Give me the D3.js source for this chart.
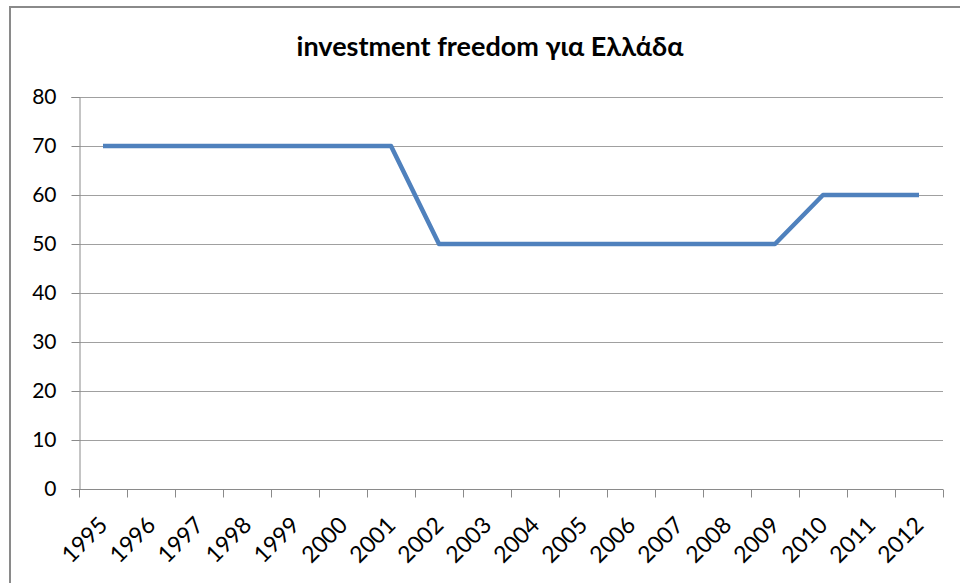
<!DOCTYPE html>
<html>
<head>
<meta charset="utf-8">
<script src="https://cdn.jsdelivr.net/npm/d3@7"></script>
<style>
  body { margin: 0; background: #fff; }
  svg { display: block; font-family: Lato, "Open Sans", sans-serif; }
</style>
</head>
<body>
<svg id="chart"></svg>
<script>
"use strict";

// data
const years = ["1995", "1996", "1997", "1998", "1999", "2000", "2001", "2002", "2003",
    "2004", "2005", "2006", "2007", "2008", "2009", "2010", "2011", "2012"];
const values = [70, 70, 70, 70, 70, 70, 70, 50, 50, 50, 50, 50, 50, 50, 50, 60, 60, 60];
const yTicks = [0, 10, 20, 30, 40, 50, 60, 70, 80];
const title = "investment freedom για Ελλάδα";

const width = 960, height = 583;
const plot = {left: 79, right: 943, top: 97, bottom: 489};

const svg = d3.select("#chart")
    .attr("width", width)
    .attr("height", height);

// outer chart frame (right and bottom fall outside the picture)
svg.append("rect")
    .attr("x", 10).attr("y", 7)
    .attr("width", 960).attr("height", 600)
    .attr("fill", "none")
    .attr("stroke", "#8a8a8a")
    .attr("stroke-width", 2);

svg.append("text")
    .attr("x", 490).attr("y", 56)
    .attr("text-anchor", "middle")
    .attr("font-weight", "bold")
    .attr("font-size", 27)
    .attr("fill", "#000")
    .text(title);

let x = d3.scaleBand()
    .domain(years)
    .range([plot.left, plot.right]);

let y = d3.scaleLinear()
    .domain([0, 80])
    .range([plot.bottom, plot.top]);

// gridlines
svg.append("g")
    .selectAll("line")
    .data(yTicks.filter(d => d > 0))
    .join("line")
    .attr("x1", plot.left).attr("x2", plot.right)
    .attr("y1", d => y(d) + 0.5).attr("y2", d => y(d) + 0.5)
    .attr("stroke", "#a0a0a0");

// y axis
let yAxis = svg.append("g")
    .attr("transform", `translate(${plot.left + 0.5},0)`)
    .call(d3.axisLeft(y).tickValues(yTicks).tickSize(8).tickPadding(15));
yAxis.select(".domain").attr("stroke", "#8a8a8a");
yAxis.selectAll(".tick line").attr("stroke", "#8a8a8a");
yAxis.selectAll(".tick text")
    .attr("font-size", 21)
    .attr("fill", "#000")
    .attr("font-family", "Lato, sans-serif");

// x axis, ticks sit between categories
let xAxis = svg.append("g")
    .attr("transform", `translate(0,${plot.bottom + 0.5})`);
xAxis.append("line")
    .attr("x1", plot.left).attr("x2", plot.right)
    .attr("stroke", "#8a8a8a");
let bounds = years.map(d => x(d)).concat([plot.right]);
xAxis.selectAll("line.tk")
    .data(bounds)
    .join("line")
    .attr("class", "tk")
    .attr("x1", d => Math.round(d) + 0.5).attr("x2", d => Math.round(d) + 0.5)
    .attr("y1", 0).attr("y2", 8)
    .attr("stroke", "#8a8a8a");
xAxis.selectAll("text")
    .data(years)
    .join("text")
    .attr("text-anchor", "end")
    .attr("font-size", 23)
    .attr("fill", "#000")
    .attr("transform", d => `translate(${x(d) + x.bandwidth() / 2 + 6},${37}) rotate(-45)`)
    .text(d => d);

// series line
let line = d3.line()
    .x((d, i) => x(years[i]) + x.bandwidth() / 2)
    .y(d => y(d));

svg.append("path")
    .datum(values)
    .attr("d", line)
    .attr("fill", "none")
    .attr("stroke", "#4f81bd")
    .attr("stroke-width", 4.5)
    .attr("stroke-linejoin", "round");
</script>
</body>
</html>
